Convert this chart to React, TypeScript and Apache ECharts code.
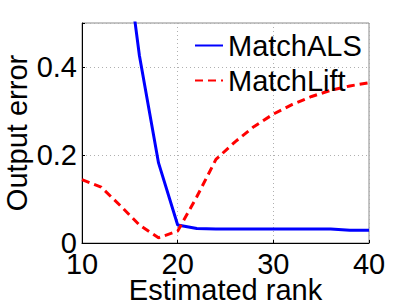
import React, { useEffect, useRef } from "react";
import * as echarts from "echarts";

const ranks = [10, 12, 14, 16, 18, 20, 22, 24, 26, 28, 30, 32, 34, 36, 38, 40];
const matchALS = [1.2, 0.98, 0.76, 0.426, 0.182, 0.041, 0.033, 0.032, 0.032, 0.032, 0.032, 0.032, 0.032, 0.032, 0.029, 0.029];
const matchLift = [0.144, 0.127, 0.085, 0.041, 0.012, 0.027, 0.105, 0.19, 0.23, 0.265, 0.293, 0.315, 0.333, 0.347, 0.357, 0.364];
const yTickLabels = ["0", "0.2", "0.4"];
const xTickLabels = ["10", "20", "30", "40"];

const FONT = "Liberation Sans, Arial, Helvetica, sans-serif";

export default function App() {
  const ref = useRef<HTMLDivElement>(null);
  useEffect(() => {
    document.body.style.margin = "0";
    const chart = echarts.init(ref.current!, null, { renderer: "svg" });
    chart.setOption({
      animation: false,
      textStyle: { fontFamily: FONT },
      grid: {
        left: 82,
        right: 38,
        top: 23,
        bottom: 63,
        containLabel: false,
        outerBoundsMode: "none",
        show: true,
        borderColor: "#8a8a8a",
        borderWidth: 1,
        backgroundColor: "transparent",
      },
      legend: {
        orient: "vertical",
        left: 194,
        top: 28,
        padding: 0,
        itemGap: 0,
        itemWidth: 28,
        itemHeight: 14,
        itemStyle: { opacity: 0, borderWidth: 0 },
        textStyle: { fontSize: 29, fontFamily: FONT, color: "#000", lineHeight: 35 },
        data: ["MatchALS", "MatchLift"],
      },
      xAxis: {
        type: "value",
        min: 10,
        max: 40,
        interval: 10,
        name: "Estimated rank",
        nameLocation: "middle",
        nameGap: 35,
        nameMoveOverlap: false,
        nameTextStyle: { fontSize: 29, lineHeight: 24, fontFamily: FONT, color: "#000" },
        axisLine: { show: true, onZero: false, lineStyle: { color: "#000", width: 1 } },
        axisTick: { show: true, inside: true, length: 3, lineStyle: { color: "#000" } },
        axisLabel: {
          fontSize: 29,
          lineHeight: 24,
          fontFamily: FONT,
          color: "#000",
          margin: 9,
          formatter: (v: number) => {
            const s = String(v);
            return xTickLabels.includes(s) ? s : "";
          },
        },
        splitLine: { show: true, lineStyle: { color: "#b0b0b0", type: [1, 3], width: 1 } },
      },
      yAxis: {
        type: "value",
        min: 0,
        max: 0.5,
        interval: 0.2,
        name: "Output error",
        nameLocation: "middle",
        nameGap: 51,
        nameMoveOverlap: false,
        nameTextStyle: { fontSize: 29, fontFamily: FONT, color: "#000" },
        axisLine: { show: true, lineStyle: { color: "#000", width: 1 } },
        axisTick: { show: true, inside: true, length: 3, lineStyle: { color: "#000" } },
        axisLabel: {
          fontSize: 29,
          fontFamily: FONT,
          color: "#000",
          margin: 5,
          formatter: (v: number) => {
            const s = String(Math.round(v * 10) / 10);
            return yTickLabels.includes(s) ? s : "";
          },
        },
        splitLine: { show: true, lineStyle: { color: "#b0b0b0", type: [1, 3], width: 1 } },
      },
      series: [
        {
          name: "MatchALS",
          type: "line",
          data: ranks.map((r, i) => [r, matchALS[i]]),
          symbol: "none",
          clip: true,
          lineStyle: { color: "#0000ff", width: 3 },
          itemStyle: { color: "#0000ff" },
        },
        {
          name: "MatchLift",
          type: "line",
          data: ranks.map((r, i) => [r, matchLift[i]]),
          symbol: "none",
          clip: true,
          lineStyle: { color: "#ff0000", width: 3, type: [8, 5] },
          itemStyle: { color: "#ff0000" },
        },
      ],
    });
    return () => chart.dispose();
  }, []);
  return <div ref={ref} style={{ width: 407, height: 306 }} />;
}
